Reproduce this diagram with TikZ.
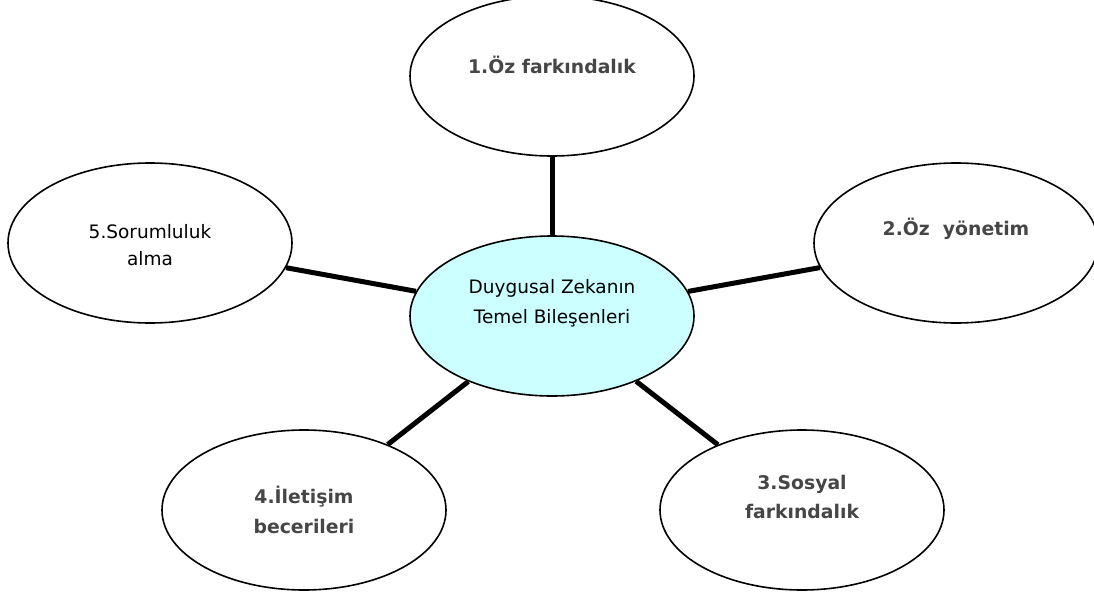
\documentclass[tikz,border=0pt]{standalone}
\usepackage{fontspec}
\setmainfont{DejaVu Sans}
\usetikzlibrary{shapes.geometric}
\definecolor{hubfill}{RGB}{204,255,255}
\definecolor{lbl}{RGB}{70,70,70}
\begin{document}
\begin{tikzpicture}[x=1pt,y=-1pt,
  bubble/.style={ellipse, draw=black, line width=1.6pt, fill=white,
    minimum width=284pt, minimum height=160pt, inner sep=0pt},
  hub/.style={bubble, fill=hubfill},
  link/.style={line width=5pt},
  boldtxt/.style={font=\fontsize{18.8}{29.5}\selectfont\bfseries, text=lbl, align=center, inner sep=0pt},
  regtxt/.style={font=\fontsize{18.5}{26.5}\selectfont, text=black, align=center, inner sep=0pt},
  hubtxt/.style={regtxt, font=\fontsize{18.5}{30}\selectfont}]
\useasboundingbox (0,0) rectangle (1094,594);
\node[hub]    (hub) at (552,316) {};
\node[bubble] (e1)  at (552,76)  {};
\node[bubble] (e2)  at (956,243) {};
\node[bubble] (e3)  at (802,510) {};
\node[bubble] (e4)  at (304,510) {};
\node[bubble] (e5)  at (150,243) {};
\draw[link] (hub) -- (e1);
\draw[link] (hub) -- (e2);
\draw[link] (hub) -- (e3);
\draw[link] (hub) -- (e4);
\draw[link] (hub) -- (e5);
\node[hubtxt]  (thub) at (552,303) {Duygusal Zekanın\\Temel Bileşenleri};
\node[boldtxt] (t1)   at (552,65)  {1.Öz farkındalık};
\node[boldtxt] (t2)   at (956,229) {2.Öz~ yönetim};
\node[boldtxt] (t3)   at (802,497) {3.Sosyal\\farkındalık};
\node[boldtxt] (t4)   at (304,510) {4.İletişim\\becerileri};
\node[regtxt]  (t5)   at (150,245) {5.Sorumluluk\\alma};
\end{tikzpicture}
\end{document}
